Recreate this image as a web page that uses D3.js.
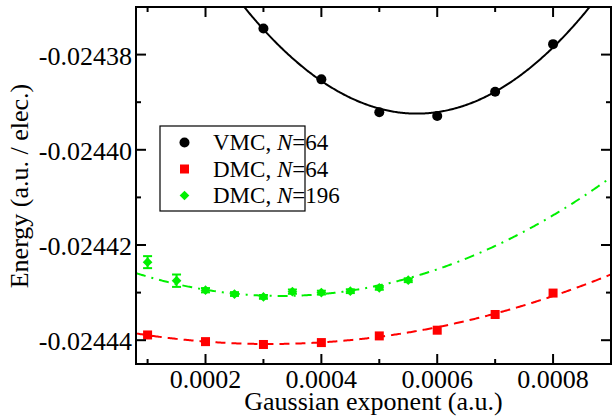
<!DOCTYPE html>
<html>
<head>
<meta charset="utf-8">
<script src="https://cdn.jsdelivr.net/npm/d3@7"></script>
<style>
  html, body { margin: 0; padding: 0; background: #fff; }
  svg { display: block; }
  text { font-family: "Liberation Serif", "Times New Roman", serif; fill: #000; }
</style>
</head>
<body>
<svg id="chart" width="613" height="416"></svg>
<script>
// Gaussian exponent (a.u.) for each series
const vmcX    = [0.0003, 0.0004, 0.0005, 0.0006, 0.0007, 0.0008];
const dmc64X  = [0.0001, 0.0002, 0.0003, 0.0004, 0.0005, 0.0006, 0.0007, 0.0008];
const dmc196X = [0.0001, 0.00015, 0.0002, 0.00025, 0.0003, 0.00035, 0.0004, 0.00045, 0.0005, 0.00055];

// Energies (a.u. / electron)
const vmcE    = [-0.0243745, -0.0243852, -0.0243921, -0.0243929, -0.0243878, -0.0243778];
const dmc64E  = [-0.0244389, -0.0244403, -0.0244409, -0.0244405, -0.0244391, -0.0244379, -0.0244346, -0.0244301];
const dmc196E = [-0.0244236, -0.0244275, -0.0244295, -0.0244303, -0.0244309, -0.0244298, -0.0244300, -0.0244297, -0.0244290, -0.0244274];
const dmc196Err = [1.26e-6, 1.3e-6, 0.45e-6, 0.4e-6, 0.4e-6, 0.45e-6, 0.4e-6, 0.4e-6, 0.4e-6, 0.4e-6];

// Quadratic fits E(a) = E0 + k (a - a0)^2, stored as [E0, a0, k]
const vmcFit    = [-0.0243924, 0.000565, 252.0];
const dmc64Fit  = [-0.0244408, 0.00031, 42.0];
const dmc196Fit = [-0.0244307, 0.00033, 76.7];

// Axis ticks
const xMajor = [0.0002, 0.0004, 0.0006, 0.0008];
const xMinor = [0.0001, 0.0003, 0.0005, 0.0007];
const yMajor = [-0.02444, -0.02442, -0.02440, -0.02438];
const yMinor = [-0.02443, -0.02441, -0.02439];

const legendLabels = [["VMC, ", "N", "=64"], ["DMC, ", "N", "=64"], ["DMC, ", "N", "=196"]];

const pL = 136, pR = 611, pT = 7, pB = 364;
const svg = d3.select("#chart");
const GREEN = "#00f000", RED = "#ff0000";

const x = d3.scaleLinear().domain([0.00008, 0.0009]).range([pL, pR]);
const y = d3.scaleLinear().domain([-0.024445, -0.02437]).range([pB, pT]);

svg.append("clipPath").attr("id", "plotClip")
  .append("rect").attr("x", pL).attr("y", pT)
  .attr("width", pR - pL).attr("height", pB - pT);

// Fit curves
function fitCurve(p) {
  const xs = d3.range(0, 401).map(i => 0.00008 + i * (0.0009 - 0.00008) / 400);
  return xs.map(a => [a, p[0] + p[2] * (a - p[1]) * (a - p[1])]);
}
const line = d3.line().x(d => x(d[0])).y(d => y(d[1]));
const curves = svg.append("g").attr("clip-path", "url(#plotClip)");
curves.append("path").attr("d", line(fitCurve(vmcFit)))
  .attr("fill", "none").attr("stroke", "#000").attr("stroke-width", 2);
curves.append("path").attr("d", line(fitCurve(dmc64Fit)))
  .attr("fill", "none").attr("stroke", RED).attr("stroke-width", 2)
  .attr("stroke-dasharray", "10,6");
curves.append("path").attr("d", line(fitCurve(dmc196Fit)))
  .attr("fill", "none").attr("stroke", GREEN).attr("stroke-width", 2)
  .attr("stroke-dasharray", "10,6,2,6");

// Markers
const diamond = d3.symbol().type(d3.symbolDiamond2).size(60);
const marks = svg.append("g");
marks.selectAll(".vmc").data(vmcX).join("circle")
  .attr("cx", d => x(d)).attr("cy", (d, i) => y(vmcE[i])).attr("r", 5).attr("fill", "#000");
marks.selectAll(".d64").data(dmc64X).join("rect")
  .attr("x", d => x(d) - 4.5).attr("y", (d, i) => y(dmc64E[i]) - 4.5)
  .attr("width", 9).attr("height", 9).attr("fill", RED);
const g196 = marks.selectAll(".d196").data(dmc196X).join("g")
  .attr("transform", (d, i) => `translate(${x(d)},${y(dmc196E[i])})`);
g196.each(function (d, i) {
  const g = d3.select(this);
  const h = y(dmc196E[i] - dmc196Err[i]) - y(dmc196E[i]);
  g.append("line").attr("x1", 0).attr("x2", 0).attr("y1", -h).attr("y2", h)
    .attr("stroke", GREEN).attr("stroke-width", 2);
  g.append("line").attr("x1", -4.5).attr("x2", 4.5).attr("y1", -h).attr("y2", -h)
    .attr("stroke", GREEN).attr("stroke-width", 2);
  g.append("line").attr("x1", -4.5).attr("x2", 4.5).attr("y1", h).attr("y2", h)
    .attr("stroke", GREEN).attr("stroke-width", 2);
  g.append("path").attr("d", diamond()).attr("fill", GREEN);
});

// Frame and inward ticks
const axes = svg.append("g").attr("stroke", "#000").attr("stroke-width", 2);
axes.append("rect").attr("x", pL).attr("y", pT).attr("width", pR - pL)
  .attr("height", pB - pT).attr("fill", "none");
const major = 10, minor = 5;
function xt(vals, len) {
  vals.forEach(v => {
    axes.append("line").attr("x1", x(v)).attr("x2", x(v)).attr("y1", pB).attr("y2", pB - len);
    axes.append("line").attr("x1", x(v)).attr("x2", x(v)).attr("y1", pT).attr("y2", pT + len);
  });
}
function yt(vals, len) {
  vals.forEach(v => {
    axes.append("line").attr("y1", y(v)).attr("y2", y(v)).attr("x1", pL).attr("x2", pL + len);
    axes.append("line").attr("y1", y(v)).attr("y2", y(v)).attr("x1", pR).attr("x2", pR - len);
  });
}
xt(xMajor, major); xt(xMinor, minor);
yt(yMajor, major); yt(yMinor, minor);

// Tick labels
const fmtY = d3.format(".5f");
svg.append("g").selectAll("text").data(yMajor).join("text")
  .attr("x", pL - 4).attr("y", d => y(d) + 10)
  .attr("text-anchor", "end").attr("font-size", 26)
  .text(d => fmtY(d).replace("\u2212", "-"));
svg.append("g").selectAll("text").data(xMajor).join("text")
  .attr("x", d => x(d)).attr("y", 388)
  .attr("text-anchor", "middle").attr("font-size", 26)
  .text(d => d3.format(".4f")(d));

// Axis titles
svg.append("text").attr("x", (pL + pR) / 2).attr("y", 410)
  .attr("text-anchor", "middle").attr("font-size", 26)
  .text("Gaussian exponent (a.u.)");
svg.append("text").attr("transform", "translate(28,186) rotate(-90)")
  .attr("text-anchor", "middle").attr("font-size", 26)
  .text("Energy (a.u. / elec.)");

// Legend
const lg = svg.append("g");
lg.append("rect").attr("x", 160).attr("y", 126).attr("width", 145).attr("height", 85)
  .attr("fill", "#fff").attr("stroke", "#000").attr("stroke-width", 1.2);
const rowsY = [142.5, 169, 195.5];
lg.append("circle").attr("cx", 184.5).attr("cy", rowsY[0]).attr("r", 5).attr("fill", "#000");
lg.append("rect").attr("x", 180).attr("y", rowsY[1] - 4.5).attr("width", 9).attr("height", 9).attr("fill", RED);
lg.append("path").attr("transform", `translate(184.5,${rowsY[2]})`).attr("d", diamond()).attr("fill", GREEN);
legendLabels.forEach((parts, i) => {
  const t = lg.append("text").attr("x", 213).attr("y", rowsY[i] + 7.5).attr("font-size", 23);
  t.append("tspan").text(parts[0]);
  t.append("tspan").attr("font-style", "italic").text(parts[1]);
  t.append("tspan").text(parts[2]);
});
</script>
</body>
</html>
